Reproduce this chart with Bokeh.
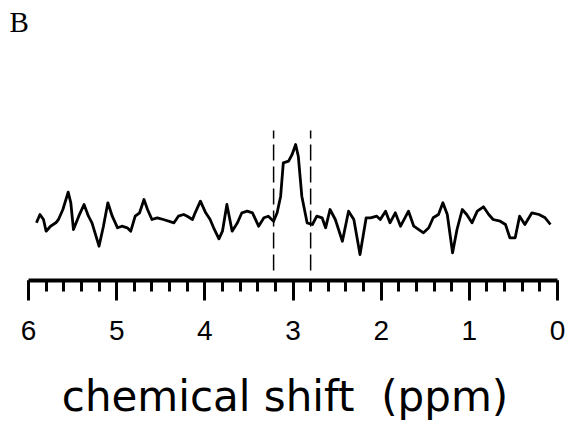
from bokeh.plotting import figure
from bokeh.models import Range1d, LinearAxis, FixedTicker, Label
from bokeh.embed import file_html
from bokeh.resources import INLINE

# ---- data ----
ppm = [5.91, 5.87, 5.83, 5.80, 5.75, 5.69, 5.66, 5.61, 5.55, 5.52, 5.49, 5.43, 5.37, 5.32,
       5.28, 5.20, 5.15, 5.10, 5.05, 4.99, 4.94, 4.88, 4.84, 4.79, 4.74, 4.69, 4.65, 4.60,
       4.54, 4.47, 4.35, 4.30, 4.24, 4.20, 4.14, 4.11, 4.05, 3.99, 3.94, 3.90, 3.84, 3.80,
       3.75, 3.69, 3.63, 3.58, 3.52, 3.46, 3.39, 3.33, 3.28, 3.22, 3.18, 3.14, 3.11, 3.05,
       3.01, 2.97, 2.94, 2.90, 2.84, 2.78, 2.73, 2.67, 2.63, 2.58, 2.52, 2.44, 2.37, 2.31,
       2.24, 2.17, 2.12, 2.05, 2.01, 1.95, 1.90, 1.84, 1.78, 1.69, 1.63, 1.52, 1.46, 1.41,
       1.35, 1.30, 1.25, 1.19, 1.14, 1.08, 1.03, 0.97, 0.91, 0.84, 0.78, 0.73, 0.65, 0.59,
       0.54, 0.48, 0.43, 0.37, 0.29, 0.21, 0.14, 0.08]
intensity = [-3.3, 5, 0, -11.7, -6.7, -3.3, 0, 10, 27.3, 16.7, -10, 3.3, 15, 3.3,
             -3.3, -26.7, -6.7, 16.7, 3.3, -8.3, -6.7, -8.3, -11.7, 3.3, 6.7, 20, 10, 0,
             1.7, 0, -3.3, 3.3, 5, 3.3, 0, 6.7, 18.3, 6.7, 0, -8.3, -19.3, -11.7,
             15, -11.7, -3.3, 6.7, 8.3, 6.7, -6.7, 1.7, 3.3, -1.7, 6.7, 23.3, 56.7, 58.3,
             65, 75, 63.3, 23.3, -3.3, -5, 3.3, 1.7, -8.3, 10, 0, -21.7, 8.3, 0,
             -35, 1.7, 1.7, 3.3, 0, 8.3, -3.3, 6.7, -6.7, 8.3, -6.7, -13.3, -8.3, 1.7,
             5, 16.7, 5, -33.3, -10, 10, 5, -3.3, 8.3, 12.7, 5, 0, -1.7, -5,
             -18.3, -18.3, 3.3, -5, 6.7, 5, 1.7, -5]
region_ppm = [3.22, 2.80]
tick_values = [6, 5, 4, 3, 2, 1, 0]
tick_labels = ["6", "5", "4", "3", "2", "1", "0"]
minor_tick_values = [6.0, 5.8, 5.6, 5.4, 5.2, 5.0, 4.8, 4.6, 4.4, 4.2, 4.0, 3.8, 3.6, 3.4,
                     3.2, 3.0, 2.8, 2.6, 2.4, 2.2, 2.0, 1.8, 1.6, 1.4, 1.2, 1.0, 0.8, 0.6,
                     0.4, 0.2, 0.0]
x_title = "chemical shift\u00a0 (ppm)"
panel_letter = "B"

# ---- layout (pixels) ----
W, H = 569, 438
AXIS_LEFT_PX, AXIS_RIGHT_PX = 28, 557      # where ppm 6 and ppm 0 sit
FRAME_BOTTOM_PX = 280                       # axis line
PX_PER_PPM = (AXIS_RIGHT_PX - AXIS_LEFT_PX) / 6.0
x_start = 6 + AXIS_LEFT_PX / PX_PER_PPM
x_end = 0 - (W - AXIS_RIGHT_PX) / PX_PER_PPM
BASE_PX = 219                               # baseline of the spectrum
Y0 = -(FRAME_BOTTOM_PX - BASE_PX)
Y1 = BASE_PX

p = figure(width=W, height=H, output_backend="svg", toolbar_location=None,
           x_range=Range1d(x_start, x_end), y_range=Range1d(Y0, Y1),
           x_axis_type=None, y_axis_type=None,
           min_border_left=0, min_border_right=0, min_border_top=0,
           min_border_bottom=H - FRAME_BOTTOM_PX)
p.outline_line_color = None
p.background_fill_color = "white"
p.border_fill_color = "white"

ax = LinearAxis(ticker=FixedTicker(ticks=tick_values, minor_ticks=minor_tick_values),
                bounds=(0, 6),
                major_label_overrides={v: t for v, t in zip(tick_values, tick_labels)},
                axis_label=x_title,
                axis_line_color="black", axis_line_width=4,
                major_tick_line_color="black", major_tick_line_width=3,
                minor_tick_line_color="black", minor_tick_line_width=3,
                major_tick_in=0, major_tick_out=20, minor_tick_in=0, minor_tick_out=11,
                major_label_standoff=20,
                major_label_text_font="Liberation Sans", major_label_text_font_size="28px",
                major_label_text_color="black",
                axis_label_standoff=29,
                axis_label_text_font="DejaVu Sans", axis_label_text_font_size="42px",
                axis_label_text_font_style="normal", axis_label_text_color="black")
p.add_layout(ax, "below")

# integration region markers
p.segment(x0=region_ppm, y0=[-51] * len(region_ppm), x1=region_ppm, y1=[89] * len(region_ppm),
          line_color="black", line_width=1.5, line_dash="16 6")

# spectrum
p.line(ppm, intensity, line_color="black", line_width=2.8, line_join="round")

# panel letter
p.add_layout(Label(x=6, x_offset=-19, y=Y1, y_offset=-5, text=panel_letter,
                   text_align="left", text_baseline="top", text_font="Liberation Serif",
                   text_font_size="29px", text_color="black"))

open("out.html", "w").write(file_html(p, INLINE))
